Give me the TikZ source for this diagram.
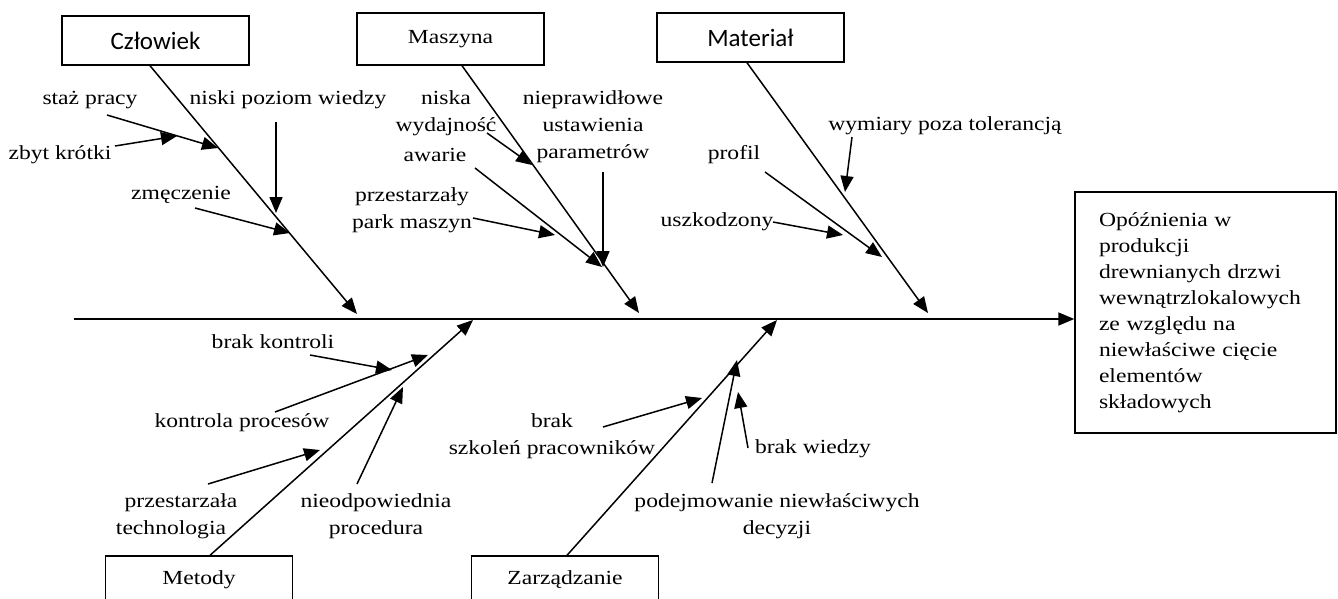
\documentclass[tikz,border=0pt]{standalone}
\usepackage{fontspec}
\setmainfont[FakeStretch=1.18]{Liberation Serif}
\newfontfamily\boxsans{Carlito}
\usetikzlibrary{arrows.meta,calc}
\newcommand\cause[5]{\node(#1)[lbl] at (#2) {#3};
  \coordinate(#1t) at (#5);
  \draw[arr] ($(#1)+(#4)$) -- (#1t);}

\begin{document}
\begin{tikzpicture}[x=1pt,y=-1pt,
    arr/.style={line width=1.5pt,-{Triangle[length=16pt,width=13pt]}},
    lbl/.style={align=center,inner sep=1pt,font=\fontsize{20}{27}\selectfont},
    cat/.style={draw,line width=1.4pt,minimum width=187pt,minimum height=49pt,font=\fontsize{20}{24}\selectfont},
    sanscat/.style={cat,font=\boxsans\fontsize{25}{30}\selectfont}]
  \clip (0,0) rectangle (1338,598);
  % categories
  \node(cz)[sanscat] at (155.5,40.5) {Człowiek};
  \node(ma)[cat,minimum height=52pt] at (450.5,39) {Maszyna};
  \node(mt)[sanscat] at (750.5,37.5) {Materiał};
  \node(me)[cat,minimum height=48pt] at (199,580) {Metody};
  \node(za)[cat,minimum height=48pt] at (565,580) {Zarządzanie};
  % effect
  \node(ef)[draw,line width=1.4pt,minimum width=261pt,minimum height=241pt,text width=213pt,
    inner xsep=24pt,align=left,font=\fontsize{20}{26}\selectfont] at (1205.5,312.5)
    {Opóźnienia w\\produkcji\\drewnianych drzwi\\wewnątrzlokalowych\\ze względu na\\niewłaściwe cięcie\\elementów\\składowych};
  % spine
  \coordinate(sp) at (74,319);
  \draw[arr,line width=1.8pt] (sp) -- (sp -| ef.west);
  % bones
  \coordinate(czt) at (357,314);
  \coordinate(mat) at (639,313);
  \coordinate(mtt) at (928,313);
  \coordinate(met) at (473,320);
  \coordinate(zat) at (777,320);
  \draw[arr] ([xshift=-5.5pt]cz.south) -- (czt);
  \draw[arr] ([xshift=11.5pt]ma.south) -- (mat);
  \draw[arr] ([xshift=-3.5pt]mt.south) -- (mtt);
  \draw[arr] ([xshift=11pt]me.north) -- (met);
  \draw[arr] ([xshift=2pt]za.north) -- (zat);
  % Czlowiek
  \cause{stazp}{90,100}{staż pracy}{17,15}{218,148}
  \cause{zbyt}{60,155}{zbyt krótki}{55,-9}{177,136}
  \cause{niski}{288,100}{niski poziom wiedzy}{-12,22}{276,213}
  \cause{zmecz}{181,195}{zmęczenie}{14,13}{290,233}
  % Maszyna
  \cause{niska}{446,113}{niska\\wydajność}{41,20}{532,165}
  \cause{awarie}{435,155}{awarie}{40,13}{602,267}
  \cause{park}{412,210}{przestarzały\\park maszyn}{61,8}{555,235}
  \cause{param}{593,127}{nieprawidłowe\\ustawienia\\parametrów}{10,45}{603,267}
  % Material
  \cause{wymiar}{945,126}{wymiary poza tolerancją}{-93,11}{845,192}
  \cause{profil}{734,155}{profil}{31,17}{882,257}
  \cause{uszk}{717,222}{uszkodzony}{56,0}{843,235}
  % Metody
  \cause{kontr}{273,342}{brak kontroli}{37,13}{392,370}
  \cause{proc}{242,423}{kontrola procesów}{33,-11}{428,355}
  \cause{tech}{171,516}{\hspace*{20pt}przestarzała\\technologia}{37,-32}{320,450}
  \cause{nieod}{376,516}{nieodpowiednia\\procedura}{-19,-32}{403,387}
  % Zarzadzanie
  \cause{szkol}{552,436}{brak\\szkoleń pracowników}{51,-9}{702,398}
  \cause{decyz}{777,516}{podejmowanie niewłaściwych\\decyzji}{-65,-33}{737,360}
  \cause{wiedz}{813,449}{brak wiedzy}{-65,-1}{738,392}
\end{tikzpicture}
\end{document}
